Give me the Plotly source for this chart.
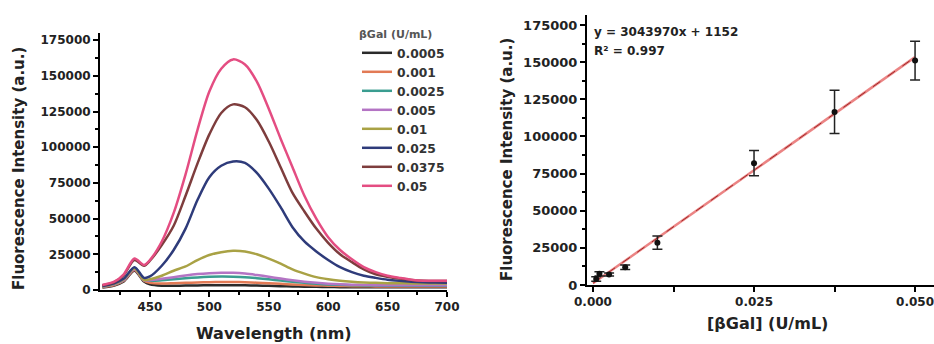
import plotly.graph_objects as go

# ---------------- data ----------------
wavelength = [410, 420, 428, 437, 445, 450, 460, 470, 480, 490, 500, 510, 520, 530, 540,
              550, 560, 570, 580, 590, 600, 610, 620, 630, 640, 650, 660, 670, 680, 690, 700]

s_0_0005 = [1800, 3200, 6000, 13500, 6000, 4000, 3000, 3000, 3100, 3200, 3300, 3400, 3400, 3300, 3100,
            2900, 2700, 2500, 2300, 2200, 2100, 2000, 2000, 2000, 2000, 2000, 2000, 2000, 2000, 2000, 2000]
s_0_001 = [2000, 3500, 6500, 14000, 6500, 5000, 4500, 4700, 5000, 5300, 5500, 5600, 5600, 5400, 5100,
           4700, 4300, 3900, 3500, 3200, 3000, 2800, 2700, 2600, 2500, 2500, 2500, 2500, 2500, 2500, 2500]
s_0_0025 = [2200, 3900, 7000, 15500, 7500, 6500, 6800, 7500, 8200, 8800, 9200, 9400, 9300, 9000, 8300,
            7500, 6600, 5800, 5000, 4400, 3900, 3600, 3400, 3200, 3100, 3000, 3000, 3000, 3000, 3000, 3000]
s_0_005 = [2300, 4000, 7000, 14500, 6800, 6800, 7800, 9000, 10200, 11200, 11800, 12100, 12000, 11500, 10500,
           9300, 8000, 6800, 5800, 5000, 4400, 4000, 3700, 3500, 3400, 3300, 3300, 3300, 3300, 3300, 3300]
s_0_01 = [2500, 4300, 7500, 15000, 7000, 7500, 10000, 13500, 16500, 21000, 24500, 26500, 27500, 27000, 25000,
          22000, 18500, 14500, 11500, 9000, 7500, 6500, 5800, 5300, 5000, 4800, 4700, 4600, 4600, 4600, 4600]
s_0_025 = [2800, 4700, 8000, 16000, 8500, 9500, 17000, 28000, 43000, 63000, 79000, 87000, 90000, 89000, 82000,
           71000, 58000, 44000, 34000, 27000, 21000, 16000, 12500, 10000, 8500, 7200, 6400, 5800, 5400, 5200, 5100]
s_0_0375 = [3300, 5500, 10500, 21000, 17000, 20500, 31500, 45000, 66000, 88500, 109000, 124000, 130000, 128000, 119000,
            104000, 86000, 68000, 55000, 43000, 33000, 25000, 19500, 14500, 11000, 9300, 8000, 7000, 6500, 6300, 6300]
s_0_05 = [3500, 5800, 11000, 22000, 17500, 21000, 34000, 54000, 81000, 112000, 139000, 155000, 161500, 158000, 146000,
          127000, 106000, 86000, 66000, 50000, 37000, 28000, 21500, 16000, 12500, 10000, 8500, 7200, 6500, 6500, 6500]

series_labels = ["0.0005", "0.001", "0.0025", "0.005", "0.01", "0.025", "0.0375", "0.05"]
series_values = [s_0_0005, s_0_001, s_0_0025, s_0_005, s_0_01, s_0_025, s_0_0375, s_0_05]
series_colors = ["#2a2a2a", "#e27a55", "#3a9d90", "#b474c4", "#a9a245", "#2e3b7a", "#7e3d3d", "#e44d82"]

conc = [0.0005, 0.001, 0.0025, 0.005, 0.01, 0.025, 0.0375, 0.05]
intensity = [4000, 7500, 7000, 12000, 28500, 82000, 116500, 151000]
intensity_err = [1500, 1500, 1000, 1500, 4500, 8500, 14500, 13000]
fit_slope = 3043970
fit_intercept = 1152
fit_x = [0.0, 0.05]

FONT = "DejaVu Sans"
W, H = 934, 344

fig = go.Figure()

for lab, vals, col in zip(series_labels, series_values, series_colors):
    fig.add_trace(go.Scatter(x=wavelength, y=vals, mode="lines", name=lab,
                             line=dict(color=col, width=2.5, shape="spline", smoothing=0.8),
                             xaxis="x", yaxis="y"))

fit_y = [fit_slope * v + fit_intercept for v in fit_x]
fig.add_trace(go.Scatter(x=fit_x, y=fit_y, mode="lines", showlegend=False,
                         line=dict(color="rgba(232,110,110,0.85)", width=2.5),
                         xaxis="x2", yaxis="y2"))
fig.add_trace(go.Scatter(x=fit_x, y=fit_y, mode="lines", showlegend=False,
                         line=dict(color="#a02828", width=1, dash="dash"),
                         xaxis="x2", yaxis="y2"))
fig.add_trace(go.Scatter(x=conc, y=intensity, mode="markers", showlegend=False,
                         marker=dict(color="#111", size=6),
                         error_y=dict(type="data", array=intensity_err, color="#222",
                                      thickness=1.5, width=5),
                         xaxis="x2", yaxis="y2"))

axis_common = dict(showgrid=False, zeroline=False, showline=True, linecolor="black",
                   linewidth=2, ticks="outside", ticklen=5, tickwidth=1.5, tickcolor="black",
                   automargin=False, ticklabeloverflow="allow")
tf_left = dict(family=FONT, size=12, color="#222", weight="bold")
tf_right = dict(family=FONT, size=13, color="#222", weight="bold")

fig.update_layout(
    width=W, height=H, margin=dict(l=0, r=0, t=0, b=0, pad=0, autoexpand=False),
    paper_bgcolor="white", plot_bgcolor="white",
    font=dict(family=FONT, color="#222"),
    xaxis=dict(domain=[100 / W, 447 / W], range=[408, 700], tick0=450, dtick=50,
               minor=dict(dtick=25, tick0=425, ticks="outside", ticklen=3, tickcolor="black"),
               anchor="y", tickfont=tf_left, **axis_common),
    yaxis=dict(domain=[1 - 290 / H, 1 - 33 / H], range=[0, 180000], dtick=25000,
               tickformat="d",
               minor=dict(dtick=12500, ticks="outside", ticklen=3, tickcolor="black"),
               anchor="x", tickfont=tf_left, **axis_common),
    xaxis2=dict(domain=[587 / W, 1.0], range=[-0.00093, 0.05294],
                tickvals=[0, 0.025, 0.05], tickformat=".3f",
                minor=dict(tickvals=[0.0125, 0.0375], ticks="outside", ticklen=5, tickcolor="black"),
                anchor="y2", tickfont=tf_left, **axis_common),
    yaxis2=dict(domain=[1 - 285 / H, 1 - 15 / H], range=[0, 181700], dtick=25000,
                tickformat="d",
                minor=dict(dtick=12500, ticks="outside", ticklen=3, tickcolor="black"),
                anchor="x2", tickfont=tf_right, **axis_common),
    legend=dict(x=357 / W, y=1 - 24 / H, xanchor="left", yanchor="top",
                bgcolor="rgba(0,0,0,0)", borderwidth=0,
                font=dict(family=FONT, size=12.3, color="#333", weight="bold"),
                title=dict(text="βGal (U/mL)", font=dict(family=FONT, size=11, color="#555")),
                tracegroupgap=0, itemwidth=30),
    showlegend=True,
)

ann = [
    dict(text="<b>Wavelength (nm)</b>", x=274 / W, y=1 - 333 / H, xref="paper", yref="paper",
         showarrow=False, font=dict(family=FONT, size=16, color="#222"), xanchor="center", yanchor="middle"),
    dict(text="<b>Fluorescence Intensity (a.u.)</b>", x=19 / W, y=1 - 169 / H, xref="paper", yref="paper",
         showarrow=False, textangle=-90, font=dict(family=FONT, size=15, color="#222"),
         xanchor="center", yanchor="middle"),
    dict(text="<b>[βGal] (U/mL)</b>", x=767 / W, y=1 - 323 / H, xref="paper", yref="paper",
         showarrow=False, font=dict(family=FONT, size=16, color="#222"), xanchor="center", yanchor="middle"),
    dict(text="<b>Fluorescence Intensity (a.u.)</b>", x=507 / W, y=1 - 160 / H, xref="paper", yref="paper",
         showarrow=False, textangle=-90, font=dict(family=FONT, size=15, color="#222"),
         xanchor="center", yanchor="middle"),
    dict(text="<b>y = 3043970x + 1152</b>", x=592 / W, y=1 - 32 / H, xref="paper", yref="paper",
         showarrow=False, font=dict(family=FONT, size=12, color="#222"), xanchor="left", yanchor="middle"),
    dict(text="<b>R² = 0.997</b>", x=592 / W, y=1 - 51 / H, xref="paper", yref="paper",
         showarrow=False, font=dict(family=FONT, size=12, color="#222"), xanchor="left", yanchor="middle"),
]
fig.update_layout(annotations=ann)

fig.write_html("out.html", config={"displayModeBar": False},
               post_script="document.body.style.margin='0';document.body.style.overflow='hidden';")
